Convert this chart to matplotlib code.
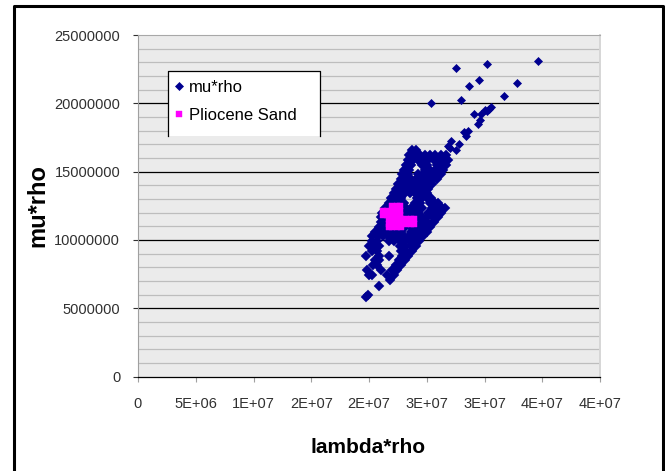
import matplotlib
matplotlib.use('Agg')
import matplotlib.pyplot as plt
from matplotlib.lines import Line2D
from matplotlib.patches import Rectangle
import numpy as np

plt.rcParams['font.family'] = ['Liberation Sans', 'DejaVu Sans']

# ---------------- data (values in millions) ----------------
# dense part of the mu*rho cloud: (mu*rho, [lambda*rho values])
cloud_rows = [
    (16.55, [23.7, 24.1]),
    (16.2, [23.5, 23.95, 24.4, 24.85, 25.3, 25.75, 26.2, 26.65]),
    (15.85, [23.35, 23.8, 24.25, 24.7, 25.15, 25.6, 26.05, 26.5, 26.85]),
    (15.5, [23.2, 23.65, 24.55, 25.0, 25.9, 26.35, 26.7]),
    (15.15, [23.05, 23.5, 24.85, 25.3, 25.75, 26.2, 26.45]),
    (14.8, [22.9, 23.35, 24.25, 24.7, 25.15, 25.6, 26.05, 26.2]),
    (14.45, [22.75, 23.2, 23.65, 24.1, 24.55, 25.0, 25.45, 25.85]),
    (14.1, [22.55, 23.0, 23.45, 23.9, 24.35, 24.8, 25.25, 25.45]),
    (13.75, [22.35, 22.8, 23.25, 23.7, 24.15, 24.6, 25.05, 25.15]),
    (13.4, [22.2, 22.65, 23.1, 23.55, 24.0, 24.45, 24.9, 25.0]),
    (13.05, [21.9, 22.35, 22.8, 24.15, 24.6, 25.05, 25.35]),
    (12.7, [21.7, 22.15, 22.6, 23.05, 23.95, 24.4, 25.3, 25.75, 26.0]),
    (12.35, [21.4, 21.85, 22.3, 22.75, 23.2, 23.65, 24.1, 24.55, 25.45, 25.9, 26.35, 26.6]),
    (12.0, [21.1, 21.55, 22.0, 22.45, 22.9, 23.35, 23.8, 24.25, 25.15, 25.6, 26.05, 26.25]),
    (11.65, [21.0, 21.45, 21.9, 22.35, 22.8, 23.25, 23.7, 24.15, 24.6, 25.05, 25.5, 25.95]),
    (11.3, [21.0, 21.45, 21.9, 22.35, 22.8, 23.25, 23.7, 24.15, 24.6, 25.05, 25.5, 25.6]),
    (10.95, [20.9, 21.35, 21.8, 22.25, 22.7, 23.15, 23.6, 24.05, 24.5, 24.95, 25.3]),
    (10.6, [20.5, 20.95, 21.4, 21.85, 22.3, 22.75, 23.65, 24.1, 24.55, 25.0]),
    (10.25, [20.3, 20.75, 21.2, 21.65, 22.1, 22.55, 23.0, 23.45, 23.9, 24.35, 24.65]),
    (9.9, [20.3, 20.65, 21.75, 22.2, 22.65, 23.1, 23.55, 24.0, 24.35]),
    (9.55, [20.0, 20.5, 20.85, 22.7, 23.15, 23.6, 24.05]),
    (9.2, [20.3, 20.7, 22.75, 23.2, 23.75]),
    (8.85, [19.7, 20.85, 21.7, 22.85, 23.4]),
    (8.5, [20.5, 20.85, 22.6, 23.1]),
    (8.15, [20.35, 20.7, 22.35, 22.8]),
    (7.8, [19.85, 21.0, 21.95, 22.45]),
    (7.45, [20.0, 20.3, 21.6, 22.15]),
    (7.1, [21.85]),
    (6.6, [20.85]),
    (6.0, [19.9]),
    (5.8, [19.75]),
]

# sparse upper streak of mu*rho
streak_lambda = [27.05, 27.1, 27.8, 28.2, 28.55, 28.4, 29.4, 29.6, 29.1, 29.7, 30.0, 30.4,
                 30.6, 30.2, 25.35, 28.0, 31.7, 28.7, 29.5, 32.8, 27.5, 30.2, 34.6, 26.8, 27.5]
streak_mu = [16.75, 17.25, 17.05, 17.9, 18.0, 17.6, 18.5, 18.8, 19.2, 19.25, 19.5, 19.6,
             19.7, 19.4, 20.0, 20.25, 20.5, 21.3, 21.7, 21.5, 22.6, 22.9, 23.1, 16.9, 16.6]

# Pliocene Sand points: (mu*rho, [lambda*rho values])
sand_rows = [
    (12.45, [22.0, 22.4, 22.65]),
    (12.1, [21.2, 21.6, 22.0, 22.4, 22.65]),
    (11.8, [21.2, 21.6, 22.0, 22.4, 22.65]),
    (11.5, [21.7, 22.0, 22.4, 22.8, 23.2, 23.6, 23.9]),
    (11.15, [21.7, 22.0, 22.4, 22.8, 23.2, 23.6, 23.9]),
    (10.95, [21.7, 22.0, 22.4, 22.8]),
]

x_ticks = [0, 5e6, 1e7, 1.5e7, 2e7, 2.5e7, 3e7, 3.5e7, 4e7]
x_tick_labels = ['0', '5E+06', '1E+07', '2E+07', '2E+07', '3E+07', '3E+07', '4E+07', '4E+07']
y_ticks = [0, 5e6, 1e7, 1.5e7, 2e7, 2.5e7]
y_tick_labels = ['0', '5000000', '10000000', '15000000', '20000000', '25000000']
y_minor = [1e6, 2e6, 3e6, 4e6, 6e6, 7e6, 8e6, 9e6, 11e6, 12e6, 13e6, 14e6,
           16e6, 17e6, 18e6, 19e6, 21e6, 22e6, 23e6, 24e6]

# ---------------- assemble ----------------
M = 1e6
cloud_lam, cloud_mu = [], []
for yv, xs in cloud_rows:
    for xv in xs:
        cloud_lam.append(xv)
        cloud_mu.append(yv)
cloud_lam = np.array(cloud_lam) * M
cloud_mu = np.array(cloud_mu) * M
streak_lam = np.array(streak_lambda) * M
streak_m = np.array(streak_mu) * M
sand_lam, sand_val = [], []
for yv, xs in sand_rows:
    for xv in xs:
        sand_lam.append(xv)
        sand_val.append(yv)
sand_lam = np.array(sand_lam) * M
sand_val = np.array(sand_val) * M

# ---------------- figure ----------------
W, H = 665, 471
fig = plt.figure(figsize=(W / 100, H / 100), dpi=100)
fig.patch.set_facecolor('white')
ax = fig.add_axes([138 / W, 1 - 376.5 / H, (600 - 138) / W, (376.5 - 35) / H])
ax.set_facecolor('#EBEBEB')
ax.set_xlim(0, 4e7)
ax.set_ylim(0, 2.5e7)

for yv in y_minor:
    ax.axhline(yv, color='#BDBDBD', lw=0.9, zorder=1)
for yv in y_ticks[1:-1]:
    ax.axhline(yv, color='black', lw=0.9, zorder=1)

blue = '#000090'
ax.plot(streak_lam, streak_m, ls='none', marker='D', ms=4.1, mfc=blue, mec=blue,
        mew=0.5, label='mu*rho', zorder=3)
ax.plot(cloud_lam, cloud_mu, ls='none', marker='D', ms=4.4, mfc=blue, mec=blue,
        mew=1.3, zorder=3)
ax.plot(sand_lam, sand_val, ls='none', marker='s', ms=4.4, mfc='#FF00FF', mec='#FF00FF',
        mew=0.3, label='Pliocene Sand', zorder=4)

ax.set_xticks(x_ticks, x_tick_labels)
ax.set_yticks(y_ticks, y_tick_labels)
ax.tick_params(axis='y', direction='out', length=3.6, width=0.8, color='#303030',
               labelcolor='#303030', labelsize=10.5, pad=9.2)
ax.tick_params(axis='x', direction='out', length=3.6, width=0.8, color='#A0A0A0',
               labelcolor='#303030', labelsize=10.5, pad=11)

ax.spines['left'].set_color('#A0A0A0')
ax.spines['left'].set_linewidth(0.8)
ax.spines['top'].set_color('#A8A8A8')
ax.spines['top'].set_linewidth(0.8)
ax.spines['right'].set_color('#D6D6D6')
ax.spines['right'].set_linewidth(1.4)
ax.spines['bottom'].set_color('black')
ax.spines['bottom'].set_linewidth(0.9)

# legend box
lx0, lx1 = (168 - 138) / 462, (320 - 138) / 462
ly0, ly1 = (376.5 - 136) / 341.5, (376.5 - 71) / 341.5
ax.add_patch(Rectangle((lx0, ly0), lx1 - lx0, ly1 - ly0, transform=ax.transAxes,
                       facecolor='white', edgecolor='none', zorder=5))
ax.add_line(Line2D([lx0, lx0, lx1, lx1], [ly0, ly1, ly1, ly0], transform=ax.transAxes,
                   color='black', lw=0.9, zorder=6))
leg = ax.legend(loc='upper left', bbox_to_anchor=((174 - 138) / 462, (376.5 - 80) / 341.5),
                frameon=False, fontsize=12, handlelength=0.6, handletextpad=0.3,
                labelspacing=0.75, borderpad=0, borderaxespad=0, markerscale=1.0)
leg.set_zorder(7)

# axis titles
fig.text(44 / W, 1 - 205.5 / H, 'mu*rho', rotation=90, rotation_mode='anchor',
         ha='center', va='baseline', fontsize=17, fontweight='bold')
fig.text(368 / W, 1 - 453 / H, 'lambda*rho', ha='center', va='baseline',
         fontsize=15, fontweight='bold')

# outer black frame (bottom edge is cut off)
fig.add_artist(Line2D([13.5 / W, 13.5 / W, 662.5 / W, 662.5 / W],
                      [0, 1 - 5.5 / H, 1 - 5.5 / H, 0], transform=fig.transFigure,
                      color='black', lw=2.2))

fig.savefig('out.png', dpi=100)
